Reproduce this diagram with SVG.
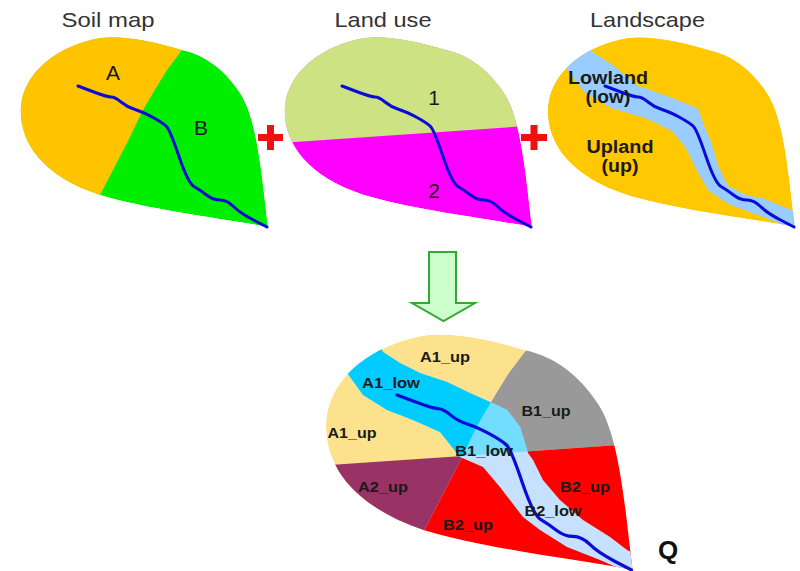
<svg xmlns="http://www.w3.org/2000/svg" xmlns:xlink="http://www.w3.org/1999/xlink" width="800" height="571" viewBox="0 0 800 571">
  <style>
    text { font-family: "Liberation Sans", Arial, sans-serif; text-anchor: middle; }
    .title { font-size: 21px; fill: #333333; }
    .big { font-size: 21px; fill: #1a1a1a; }
    .ls { font-size: 18px; font-weight: bold; fill: #1a1a1a; }
    .lbl { font-size: 15px; font-weight: bold; fill: #1a1a1a; }
    .q { font-size: 26px; font-weight: bold; fill: #111111; }
    .river { fill: none; stroke: #0b0bd9; stroke-width: 3; stroke-linejoin: round; stroke-linecap: round; }
    .plus { fill: #f01010; }
    .arrow { fill: #ccffcc; stroke: #33a933; stroke-width: 2; stroke-linejoin: miter; }
  </style>
  <defs>
    <!-- common catchment outline, drawn in the frame of the first map -->
    <path id="leaf" d="M268,227 C262,180 258,120 240,93 C225,70 205,55 182,50 C150,40 120,35 100,38 C60,45 25,70 21,105 C18,140 40,175 100,195 C150,210 220,218 268,227 Z"/>
    <!-- stream line, smoothed through its bends -->
    <path id="river" d="M78,86 L92.5,91.5 Q107,97 111,97 Q115,97 121,102 Q127,107 135,109.5 Q143,112 153,117.5 Q163,123 166.5,126.5 Q170,130 179,156.5 Q188,183 194,186.5 Q200,190 206.5,195 Q213,200 220,200 Q227,200 233.5,206.5 Q240,213 253.5,220 L267,227"/>
    <!-- part west of the soil boundary -->
    <polygon id="zoneA" points="-10,-10 190,-10 182,50 167,70 153,93 143,110 127,143 100,195 95,240 -10,240"/>
    <!-- part north of the land-use boundary -->
    <polygon id="zone1" points="-10,-10 300,-10 300,123.4 248,127 31,142 -10,144.8"/>
    <!-- valley band of the landscape map -->
    <polygon id="bandL" points="55,40 63,52 86,67 110,87 146,100 170,110 176,127 183,143 190,167 200,187 220,197 236,200 260,210 290,222 290,240 266,227 230,213 203,203 183,190 173,173 160,147 146,130 120,117 86,107 60,93 40,67 28,50"/>
    <!-- valley band of the combined map -->
    <polygon id="bandQ" points="55,30 66.7,51.3 80.4,60.2 96.5,68.2 118.3,75.5 136.8,84.4 153,91.6 166.7,98.1 177.2,111.8 183.6,132.7 187.7,138.4 195.7,154.5 209.4,170.6 228,186.8 249.8,200.5 263.5,211 285,222 285,240 260.2,227 241.7,219 215.1,208.5 193.3,194.8 179.6,184.4 161,160.2 147.3,144 128.8,136 112.7,115.8 90.9,106.1 70,98.1 50.6,85.9 37.7,68.1 28,57.7 20,50"/>
    <clipPath id="clipLeaf"><use xlink:href="#leaf"/></clipPath>
    <clipPath id="clipZone1"><use xlink:href="#zone1"/></clipPath>
    <clipPath id="clipZoneA1"><polygon points="-10,-10 190,-10 182,50 167,70 153,93 143,110 130.8,135.1 31,142 -10,144.8"/></clipPath>
  </defs>

  <!-- soil map -->
  <g id="soil-map">
    <text class="title" x="108" y="27" textLength="93" lengthAdjust="spacingAndGlyphs">Soil map</text>
    <g clip-path="url(#clipLeaf)">
      <use xlink:href="#leaf" fill="#00ee00"/>
      <use xlink:href="#zoneA" fill="#ffc400"/>
    </g>
    <use xlink:href="#river" class="river"/>
    <text class="big" x="113" y="80">A</text>
    <text class="big" x="201" y="135">B</text>
  </g>

  <!-- land use map -->
  <g id="land-use" transform="translate(264,0)">
    <text class="title" x="119" y="27" textLength="97" lengthAdjust="spacingAndGlyphs">Land use</text>
    <g clip-path="url(#clipLeaf)">
      <use xlink:href="#leaf" fill="#ff00ff"/>
      <use xlink:href="#zone1" fill="#cde282"/>
    </g>
    <use xlink:href="#river" class="river"/>
    <text class="big" x="170" y="105">1</text>
    <text class="big" x="170" y="198">2</text>
  </g>

  <!-- landscape map -->
  <g id="landscape" transform="translate(527,0)">
    <text class="title" x="120.5" y="27" textLength="115" lengthAdjust="spacingAndGlyphs">Landscape</text>
    <g clip-path="url(#clipLeaf)">
      <use xlink:href="#leaf" fill="#ffc800"/>
      <use xlink:href="#bandL" fill="#99ccff" stroke="#99ccff" stroke-width="3" stroke-linejoin="round"/>
    </g>
    <use xlink:href="#river" class="river"/>
    <text class="ls" x="81" y="84" textLength="80" lengthAdjust="spacingAndGlyphs">Lowland</text>
    <text class="ls" x="81" y="103" textLength="45" lengthAdjust="spacingAndGlyphs">(low)</text>
    <text class="ls" x="93" y="153" textLength="67" lengthAdjust="spacingAndGlyphs">Upland</text>
    <text class="ls" x="93" y="172" textLength="37" lengthAdjust="spacingAndGlyphs">(up)</text>
  </g>

  <!-- combined map Q -->
  <g id="overlay-q">
    <g transform="translate(300.3,288.4) scale(1.24)">
      <g clip-path="url(#clipLeaf)">
        <use xlink:href="#leaf" fill="#fde28e"/>
        <polygon fill="#999999" points="190,-10 300,-10 300,123.4 130.8,135.1 143,110 153,93 167,70 182,50"/>
        <polygon fill="#ff0000" points="130.8,135.1 300,123.4 300,240 95,240 100,195 127,143"/>
        <polygon fill="#993366" points="-10,144.8 130.8,135.1 127,143 100,195 95,240 -10,240"/>
        <use xlink:href="#bandQ" fill="#c6e0ff"/>
        <use xlink:href="#bandQ" fill="#73ddff" clip-path="url(#clipZone1)"/>
        <use xlink:href="#bandQ" fill="#00ccff" clip-path="url(#clipZoneA1)"/>
      </g>
      <use xlink:href="#river" class="river" style="stroke-width:2.6"/>
    </g>
    <text class="lbl" x="445" y="362" textLength="50" lengthAdjust="spacingAndGlyphs">A1_up</text>
    <text class="lbl" x="391" y="388" textLength="58" lengthAdjust="spacingAndGlyphs">A1_low</text>
    <text class="lbl" x="352" y="438" textLength="49" lengthAdjust="spacingAndGlyphs">A1_up</text>
    <text class="lbl" x="546" y="416" textLength="49" lengthAdjust="spacingAndGlyphs">B1_up</text>
    <text class="lbl" x="484" y="456" textLength="58" lengthAdjust="spacingAndGlyphs">B1_low</text>
    <text class="lbl" x="383" y="492" textLength="50" lengthAdjust="spacingAndGlyphs">A2_up</text>
    <text class="lbl" x="585" y="492" textLength="50" lengthAdjust="spacingAndGlyphs">B2_up</text>
    <text class="lbl" x="553" y="516" textLength="57" lengthAdjust="spacingAndGlyphs">B2_low</text>
    <text class="lbl" x="468" y="530" textLength="50" lengthAdjust="spacingAndGlyphs">B2_up</text>
    <text class="q" x="668" y="559">Q</text>
  </g>

  <!-- operators between the maps -->
  <g id="connectors">
    <g class="plus">
      <rect x="258" y="134" width="25" height="7"/>
      <rect x="267" y="125" width="7" height="25"/>
      <rect x="521" y="134" width="26" height="7"/>
      <rect x="530.5" y="125" width="7" height="25"/>
    </g>
    <path class="arrow" d="M429,252 H456 V303 H475 L443.5,321 L412,303 H429 Z"/>
  </g>
</svg>
